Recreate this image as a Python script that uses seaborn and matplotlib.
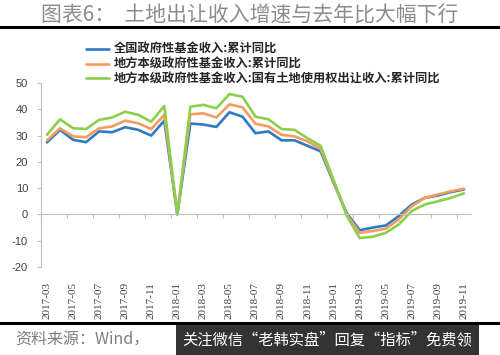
import numpy as np
import pandas as pd
import seaborn as sns
import matplotlib.pyplot as plt
from matplotlib.lines import Line2D

sns.set_style("white")
plt.rcParams['font.family'] = ['Noto Sans CJK SC', 'DejaVu Sans']
plt.rcParams['axes.unicode_minus'] = False

# months 2017-03 .. 2019-11
months = pd.period_range('2017-03', '2019-11', freq='M').strftime('%Y-%m').tolist()

national_fund = [27.4, 32.2, 28.4, 27.5, 31.6, 31.3, 33.2, 32.2, 30.0, 35.7,
                 0.0, 34.6, 34.2, 33.3, 38.9, 37.2, 30.9, 31.6, 28.2, 28.2,
                 26.1, 24.0, 12.0, 0.5, -6.0, -5.0, -4.2, -0.6, 3.8, 6.3,
                 7.2, 8.5, 9.5]
local_fund = [28.2, 32.8, 29.7, 29.4, 32.8, 33.5, 35.7, 34.7, 32.5, 37.9,
              0.0, 38.1, 38.5, 36.9, 41.9, 40.8, 34.5, 33.5, 30.3, 29.7,
              27.8, 24.9, 12.5, 0.0, -7.0, -6.3, -5.4, -1.9, 3.2, 6.3,
              7.6, 8.8, 9.8]
land_sale = [30.3, 36.2, 32.8, 32.5, 36.0, 36.9, 39.1, 37.9, 35.3, 41.3,
             0.0, 41.0, 41.7, 40.4, 45.8, 44.8, 37.2, 36.2, 32.5, 32.2,
             29.0, 26.1, 13.0, -0.5, -9.0, -8.5, -7.0, -3.8, 1.3, 3.8,
             5.0, 6.3, 8.0]

names = ['全国政府性基金收入:累计同比',
         '地方本级政府性基金收入:累计同比',
         '地方本级政府性基金收入:国有土地使用权出让收入:累计同比']
colors = ['#2E7BC4', '#F79B5E', '#8CCF4D']

df = pd.DataFrame({
    'idx': list(range(len(months))) * 3,
    'value': national_fund + local_fund + land_sale,
    'series': [names[0]] * len(months) + [names[1]] * len(months) + [names[2]] * len(months),
})

fig = plt.figure(figsize=(5, 3.55), dpi=100)
ax = fig.add_axes([0.081, 0.248, 0.86, 0.518])

sns.lineplot(data=df, x='idx', y='value', hue='series', hue_order=names,
             palette=colors, linewidth=1.9, ax=ax, legend=False,
             solid_joinstyle='round', solid_capstyle='round')

ax.set_xlim(-0.5, len(months) - 0.5)
ax.set_ylim(-20, 50)
ax.set_yticks(range(-20, 51, 10))
ax.set_xlabel('')
ax.set_ylabel('')

# x axis line at zero with category boundary ticks
for s in ['top', 'right']:
    ax.spines[s].set_visible(False)
ax.spines['bottom'].set_position(('data', 0))
ax.spines['bottom'].set_color('#BFBFBF')
ax.spines['left'].set_color('#BFBFBF')
ax.set_xticks(np.arange(-0.5, len(months), 2))
ax.set_xticklabels([])
ax.tick_params(axis='x', direction='out', length=3, color='#BFBFBF', bottom=True)
ax.tick_params(axis='y', direction='out', length=3, color='#BFBFBF', left=True,
               labelsize=8, labelcolor='#404040', pad=6)
for lab in ax.get_yticklabels():
    lab.set_family(['Liberation Sans', 'DejaVu Sans'])

sec = ax.secondary_xaxis(0.0)
sec.set_xticks(range(0, len(months), 2))
sec.set_xticklabels(months[::2], rotation=90, fontsize=8, color='#404040',
                    family=['Liberation Serif', 'DejaVu Serif'])
sec.tick_params(length=0, pad=11)
sec.spines['bottom'].set_visible(False)

handles = [Line2D([0], [0], color=c, lw=1.9) for c in colors]
fig.legend(handles, names, loc='upper left', bbox_to_anchor=(0.15, 0.91),
           frameon=False, handlelength=1.9, handletextpad=0.4,
           labelspacing=0.15, prop={'weight': 'bold', 'size': 8.8})

fig.text(0.5, 0.955, '图表6：  土地出让收入增速与去年比大幅下行', ha='center', va='center',
         fontsize=15, color='#8C8C8C')
fig.add_artist(Line2D([0, 1], [0.924, 0.924], color='black', lw=2.2, transform=fig.transFigure))
fig.add_artist(Line2D([0, 1], [0.09, 0.09], color='black', lw=2.2, transform=fig.transFigure))

fig.text(0.03, 0.045, '资料来源：Wind，', ha='left', va='center', fontsize=11.5,
         color='#7F7F7F', style='italic')
fig.text(0.365, 0.042, '关注微信“老韩实盘”回复“指标”免费领', ha='left', va='center',
         fontsize=11, color='white',
         bbox=dict(boxstyle='square,pad=0.45', facecolor='#333333', edgecolor='none'))

fig.savefig('out.png', dpi=100)
